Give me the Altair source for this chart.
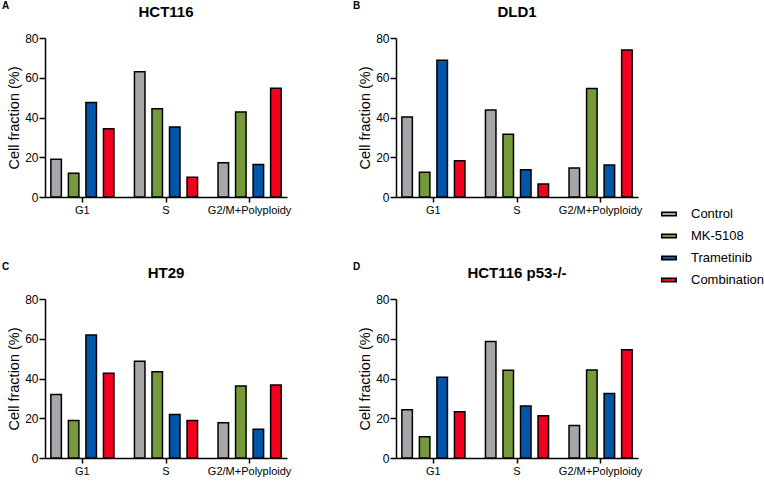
import altair as alt
import pandas as pd

# Cell-cycle distribution per cell line and treatment
panels = ["HCT116", "DLD1", "HT29", "HCT116 p53-/-"]
letters = ["A", "B", "C", "D"]
phases = ["G1", "S", "G2/M+Polyploidy"]
treatments = ["Control", "MK-5108", "Trametinib", "Combination"]
colors = ["#a5a5aa", "#76993a", "#0056a8", "#f4001e"]

# values[panel][phase] -> [Control, MK-5108, Trametinib, Combination]
hct116 = [[19.0, 12.0, 47.5, 34.3], [63.0, 44.4, 35.2, 9.9], [17.2, 42.8, 16.3, 54.7]]
dld1 = [[40.3, 12.4, 68.8, 18.2], [43.8, 31.6, 13.7, 6.5], [14.6, 54.6, 16.1, 74.0]]
ht29 = [[31.9, 18.9, 61.9, 42.7], [48.7, 43.4, 21.9, 18.9], [17.7, 36.2, 14.5, 36.7]]
hct116_p53 = [[24.3, 10.7, 40.6, 23.3], [58.6, 44.1, 26.2, 21.3], [16.3, 44.3, 32.4, 54.5]]
values = [hct116, dld1, ht29, hct116_p53]

rows = []
for name, table in zip(panels, values):
    for phase, vals in zip(phases, table):
        for trt, v in zip(treatments, vals):
            rows.append({"panel": name, "phase": phase, "treatment": trt, "value": v})
df = pd.DataFrame(rows)

FONT = "Liberation Sans"
W, H = 242, 159


def panel(name, letter):
    sub = df[df.panel == name]
    bars = alt.Chart(sub).mark_bar(stroke="black", strokeWidth=1.5).encode(
        x=alt.X("phase:N", sort=phases,
                scale=alt.Scale(paddingInner=0.245, paddingOuter=0.07),
                axis=alt.Axis(title=None, labelAngle=0, labelFontSize=11,
                              labelPadding=2, tickSize=5)),
        xOffset=alt.XOffset("treatment:N", sort=treatments,
                            scale=alt.Scale(paddingInner=0.4, paddingOuter=0)),
        y=alt.Y("value:Q", scale=alt.Scale(domain=[0, 80], nice=False),
                axis=alt.Axis(title="Cell fraction (%)", values=[0, 20, 40, 60, 80],
                              labelFontSize=12, titleFontSize=14.5, titleFontWeight="normal",
                              tickSize=6, labelPadding=1, titlePadding=3)),
        color=alt.Color("treatment:N", sort=treatments,
                        scale=alt.Scale(domain=treatments, range=colors),
                        legend=alt.Legend(title=None, orient="none", legendX=616, legendY=168,
                                          symbolType="M-1,-0.24H1V0.24H-1Z", symbolSize=210,
                                          symbolStrokeColor="black", symbolStrokeWidth=1.5,
                                          labelFontSize=13, labelFont=FONT, rowPadding=7,
                                          labelOffset=14)),
    )
    # panel letter in the top-left corner
    tag = alt.Chart(pd.DataFrame({"t": [letter]})).mark_text(
        font=FONT, fontWeight="bold", fontSize=10, align="left", baseline="middle"
    ).encode(text="t:N", x=alt.value(-43), y=alt.value(-32))
    # cell line name centred above the plot
    head = alt.Chart(pd.DataFrame({"t": [name]})).mark_text(
        font=FONT, fontWeight="bold", fontSize=15, align="center", baseline="middle"
    ).encode(text="t:N", x=alt.value(W / 2), y=alt.value(-26))
    return alt.layer(bars, tag, head).properties(width=W, height=H)


top = alt.hconcat(panel(panels[0], letters[0]), panel(panels[1], letters[1]), spacing=62)
bottom = alt.hconcat(panel(panels[2], letters[2]), panel(panels[3], letters[3]), spacing=62)

chart = alt.vconcat(top, bottom, spacing=47).configure_view(stroke=None).configure_axis(
    domainColor="black", tickColor="black", labelColor="black", titleColor="black",
    domainWidth=1.5, tickWidth=1.5, grid=False, labelFont=FONT, titleFont=FONT
).properties(padding={"left": 2, "top": 1, "right": 0, "bottom": 2})

chart.save("out.html", embed_options={"renderer": "svg", "actions": False})
